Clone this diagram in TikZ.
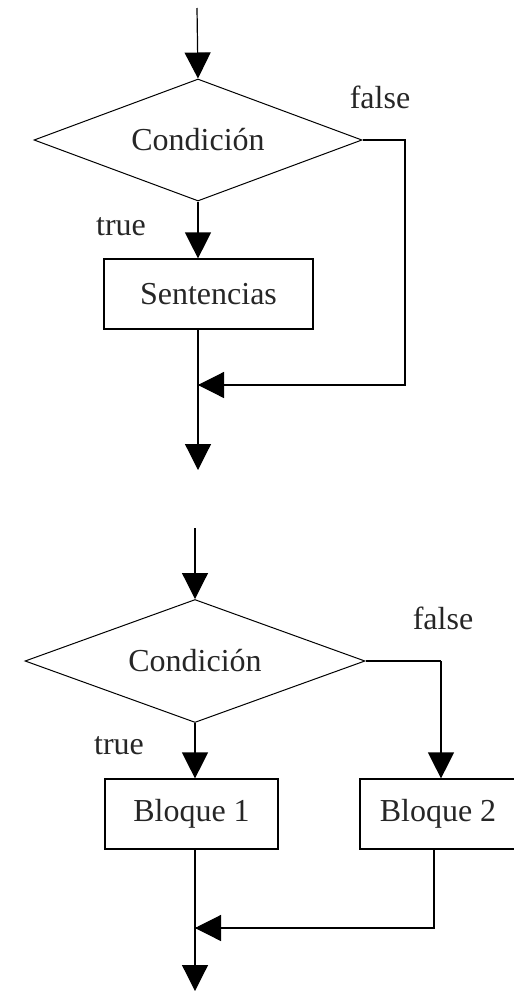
\documentclass[tikz,border=0pt]{standalone}
\usepackage{fontspec}
\setmainfont{Liberation Serif}
\usetikzlibrary{shapes.geometric,arrows.meta}
\begin{document}
\begin{tikzpicture}[x=1pt,y=-1pt,
  every node/.style={font=\fontsize{32}{37}\selectfont, text=black!85},
  flow/.style={line width=1.2pt, -{Triangle[length=26pt,width=26pt]}},
  plain/.style={line width=1.2pt},
  cond/.style={diamond, draw, line width=1pt, inner sep=0pt},
  block/.style={rectangle, draw, line width=1.2pt, inner sep=0pt},
  lbl/.style={inner sep=0pt}]
\useasboundingbox (0,0) rectangle (514,991);
% ---- top diagram ----
\coordinate (s1) at (197,8);
\node[cond, minimum width=328pt, minimum height=122pt, aspect=2.69] (c1) at (198,140) {Condición};
\node[block, minimum width=209pt, minimum height=70pt] (b1) at (208.5,294) {Sentencias};
\node[lbl] (f1) at (380,97) {false};
\node[lbl] (t1) at (121,227) {true};
\coordinate (k1) at (405,140);
\coordinate (k2) at (405,385);
\coordinate (m1) at (198,385);
\coordinate (e1) at (198,470);
\draw[flow] (s1) -- (c1.north);
\draw[flow] (c1.south) -- (c1.south |- b1.north);
\draw[plain] (c1.east) -- (k1) -- (k2) -- (m1);
\draw[flow] (k2) -- (m1);
\draw[flow] (c1.south |- b1.south) -- (e1);
% ---- bottom diagram ----
\coordinate (s2) at (194,528);
\node[cond, minimum width=340pt, minimum height=123pt, aspect=2.76] (c2) at (195,661) {Condición};
\node[block, minimum width=173pt, minimum height=70pt] (b2) at (191.5,814) {Bloque 1};
\node[block, minimum width=164pt, minimum height=70pt] (b3) at (442,814) {};
\node[lbl] (b3t) at (438,814) {Bloque 2};
\node[lbl] (f2) at (443,618) {false};
\node[lbl] (t2) at (119,746) {true};
\coordinate (k3) at (441,661);
\coordinate (k4) at (434,928);
\coordinate (m2) at (195,928);
\coordinate (e2) at (195,991);
\draw[plain] (c2.east) -- (k3);
\draw[flow] (k3) -- (k3 |- b3.north);
\draw[flow] (c2.north |- s2) -- (c2.north);
\draw[flow] (c2.south) -- (c2.south |- b2.north);
\draw[plain] (k4 |- b3.south) -- (k4) -- (m2);
\draw[flow] (k4) -- (m2);
\draw[flow] (c2.south |- b2.south) -- (e2);
\end{tikzpicture}
\end{document}
